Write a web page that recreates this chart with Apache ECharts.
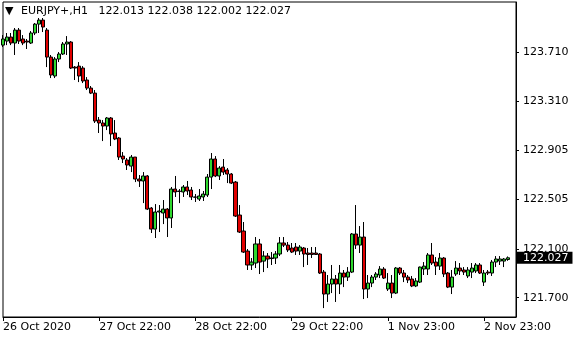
<!DOCTYPE html>
<html><head><meta charset="utf-8">
<script src="https://cdn.jsdelivr.net/npm/echarts@6/dist/echarts.min.js"></script>
<style>html,body{margin:0;padding:0;background:#fff}#c{width:580px;height:340px}</style>
</head><body><div id="c"></div>
<script>
const symbolName = 'EURJPY+,H1';
const tickLabels = ['26 Oct 2020', '27 Oct 22:00', '28 Oct 22:00', '29 Oct 22:00', '1 Nov 23:00', '2 Nov 23:00'];
const barsPerTick = 24;
const priceTicks = [121.700, 122.100, 122.505, 122.905, 123.310, 123.710];

const opens = [123.769,123.802,123.835,123.786,123.892,123.819,123.802,123.786,123.868,123.941,
123.974,123.892,123.671,123.516,123.655,123.696,123.778,123.794,123.589,123.597,
123.581,123.483,123.417,123.376,123.155,123.131,123.106,123.172,123.049,123.008,
122.860,122.828,122.778,122.852,122.672,122.656,122.697,122.434,122.262,122.402,
122.394,122.426,122.353,122.590,122.574,122.566,122.607,122.582,122.525,122.508,
122.525,122.541,122.688,122.836,122.697,122.770,122.746,122.713,122.647,122.377,
122.246,122.082,121.968,121.984,122.140,122.000,122.041,122.025,122.025,122.058,
122.148,122.131,122.107,122.115,122.082,122.107,122.066,122.066,122.066,122.058,
121.910,121.730,121.812,121.853,121.812,121.902,121.869,121.910,122.222,122.131,
122.197,121.771,121.820,121.869,121.886,121.935,121.771,121.820,121.738,121.943,
121.902,121.869,121.853,121.796,121.828,121.935,121.935,122.050,121.992,121.959,
122.025,121.902,121.787,121.894,121.943,121.927,121.878,121.910,121.919,121.968,
121.828,121.910,121.902,121.992,122.000,122.000,122.013];

const closes = [123.819,123.835,123.786,123.892,123.802,123.786,123.794,123.868,123.941,123.974,
123.917,123.671,123.524,123.655,123.696,123.778,123.794,123.581,123.581,123.516,
123.475,123.417,123.376,123.147,123.131,123.106,123.172,123.041,123.000,122.852,
122.836,122.787,122.852,122.672,122.656,122.697,122.426,122.262,122.402,122.410,
122.426,122.353,122.590,122.566,122.570,122.607,122.574,122.525,122.523,122.533,
122.549,122.688,122.836,122.697,122.762,122.729,122.713,122.639,122.369,122.238,
122.074,121.968,121.992,122.140,121.992,122.041,122.017,122.021,122.058,122.148,
122.131,122.091,122.074,122.082,122.115,122.058,122.054,122.054,122.054,121.902,
121.730,121.812,121.853,121.812,121.902,121.869,121.910,122.222,122.131,122.197,
121.771,121.820,121.869,121.894,121.935,121.861,121.820,121.738,121.943,121.902,
121.869,121.845,121.796,121.837,121.951,121.959,122.050,121.984,121.959,122.025,
121.894,121.787,121.869,121.943,121.919,121.910,121.927,121.943,121.968,121.902,
121.902,121.902,121.992,122.017,122.017,122.017,122.027];

const lows = [123.753,123.769,123.769,123.688,123.778,123.769,123.737,123.778,123.851,123.868,
123.876,123.589,123.499,123.499,123.630,123.688,123.688,123.573,123.483,123.466,
123.458,123.401,123.368,123.131,123.049,122.983,123.073,122.942,122.991,122.828,
122.803,122.746,122.729,122.647,122.607,122.475,122.418,122.230,122.189,122.238,
122.303,122.197,122.271,122.525,122.475,122.525,122.541,122.500,122.484,122.492,
122.492,122.525,122.590,122.688,122.664,122.705,122.639,122.631,122.361,122.230,
122.066,121.927,121.927,121.943,121.894,121.910,121.943,121.968,121.976,122.041,
122.115,122.074,122.066,122.050,122.050,121.951,121.968,122.025,122.050,121.894,
121.615,121.665,121.738,121.665,121.730,121.787,121.837,121.902,122.099,122.066,
121.689,121.697,121.787,121.845,121.861,121.853,121.755,121.697,121.730,121.886,
121.828,121.820,121.787,121.787,121.820,121.886,121.886,121.968,121.886,121.927,
121.869,121.779,121.730,121.878,121.886,121.886,121.861,121.861,121.902,121.894,
121.796,121.886,121.878,121.951,121.968,121.951,122.002];

const highs = [123.851,123.868,123.868,123.909,123.909,123.851,123.819,123.884,123.950,123.991,
123.991,123.909,123.688,123.671,123.712,123.794,123.843,123.802,123.597,123.630,
123.597,123.507,123.434,123.401,123.180,123.155,123.180,123.180,123.155,123.016,
122.893,122.844,122.869,122.852,122.705,122.729,122.705,122.443,122.467,122.459,
122.500,122.434,122.607,122.697,122.590,122.623,122.656,122.607,122.549,122.590,
122.574,122.713,122.885,122.860,122.778,122.836,122.762,122.721,122.656,122.459,
122.320,122.099,122.025,122.197,122.181,122.082,122.066,122.074,122.082,122.197,
122.197,122.156,122.148,122.148,122.131,122.115,122.107,122.115,122.115,122.066,
121.927,121.886,121.968,121.886,121.968,121.927,121.951,122.230,122.459,122.287,
122.320,121.886,121.886,121.910,121.959,121.951,121.902,121.886,121.951,121.951,
121.927,121.886,121.878,121.861,121.955,121.992,122.066,122.148,122.033,122.066,
122.033,121.910,121.927,122.000,121.984,121.951,121.951,121.984,121.984,121.984,
121.927,121.927,122.009,122.041,122.041,122.025,122.038];

const FONT = 'DejaVu Sans';
const n = opens.length;
const candles = opens.map((o, i) => [o, closes[i], lows[i], highs[i]]);
const cats = [];
for (let i = 0; i < n + 2; i++) cats.push(String(i));
const showTick = (idx) => idx % barsPerTick === 0 && idx / barsPerTick < tickLabels.length;
const last = n - 1;
const f3 = v => v.toFixed(3);
const headerText = symbolName + '   ' + [opens[last], highs[last], lows[last], closes[last]].map(f3).join(' ');

const chart = echarts.init(document.getElementById('c'), null, {renderer: 'canvas'});
chart.setOption({
  animation: false,
  backgroundColor: '#fff',
  title: [
    {text: '\u25BC', left: 5, top: 6, padding: 0, textStyle: {fontFamily: FONT, fontSize: 11, fontWeight: 'normal', color: '#000'}},
    {text: headerText, left: 21, top: 6, padding: 0, textStyle: {fontFamily: FONT, fontSize: 11, fontWeight: 'normal', color: '#000'}}
  ],
  grid: {left: 3, right: 64, top: 2, bottom: 23, show: true, borderColor: '#000', borderWidth: 1, containLabel: false},
  xAxis: {
    type: 'category', data: cats, boundaryGap: false,
    axisLine: {show: true, lineStyle: {color: '#000', width: 1}},
    axisTick: {show: true, interval: (idx) => showTick(idx), length: 4, lineStyle: {color: '#000'}},
    axisLabel: {interval: (idx) => showTick(idx), formatter: (v, idx) => showTick(idx) ? tickLabels[idx / barsPerTick] : '',
      align: 'left', margin: 5, color: '#000', fontFamily: FONT, fontSize: 11},
    splitLine: {show: false}
  },
  yAxis: {
    type: 'value', position: 'right', min: 121.542, max: 124.122, scale: true,
    axisLine: {show: true, lineStyle: {color: '#000', width: 1}},
    axisTick: {show: true, customValues: priceTicks, length: 3, lineStyle: {color: '#000'}},
    axisLabel: {customValues: priceTicks, formatter: v => f3(v), margin: 7, color: '#000', fontFamily: FONT, fontSize: 11},
    splitLine: {show: false}
  },
  series: [{
    type: 'candlestick', data: candles, barWidth: 3.6,
    itemStyle: {color: '#2fd82f', color0: '#e00000', borderColor: '#000', borderColor0: '#000', borderColorDoji: '#000', borderWidth: 1},
    markLine: {
      silent: true, symbol: ['none', 'none'], z: 20, precision: 3,
      lineStyle: {color: 'rgba(0,0,0,0)', width: 1, type: 'solid'},
      emphasis: {disabled: true},
      data: [{yAxis: closes[last]}],
      label: {show: true, position: 'end', distance: 0, formatter: () => f3(closes[last]),
        backgroundColor: '#000', color: '#fff', padding: [1, 4, 0, 7], fontFamily: FONT, fontSize: 11}
    }
  }]
});
</script>
</body></html>
